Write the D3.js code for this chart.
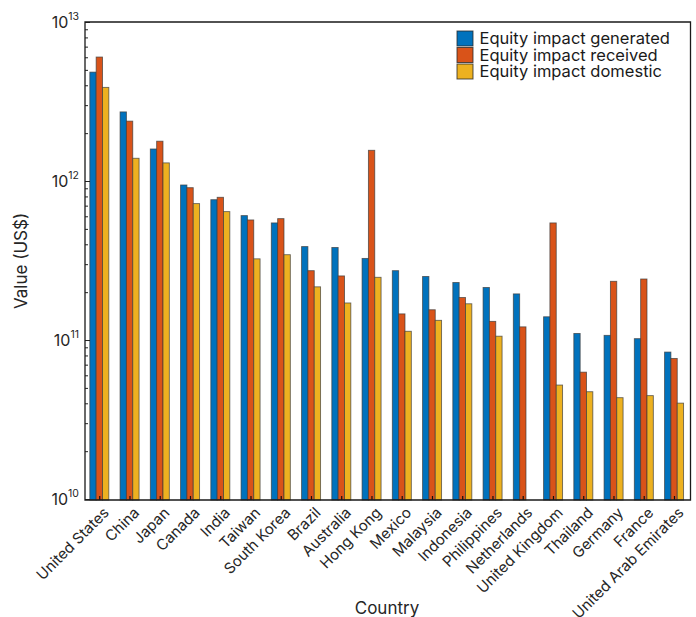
<!DOCTYPE html>
<html>
<head>
<meta charset="utf-8">
<script src="https://cdn.jsdelivr.net/npm/d3@7"></script>
<style>
  html, body { margin: 0; padding: 0; background: #fff; }
  svg { display: block; font-family: Inter, "Liberation Sans", Arial, sans-serif; }
</style>
</head>
<body>
<svg id="chart" width="696" height="617"></svg>
<script>
// Countries along the x axis
const countries = ["United States", "China", "Japan", "Canada", "India", "Taiwan",
  "South Korea", "Brazil", "Australia", "Hong Kong", "Mexico", "Malaysia",
  "Indonesia", "Philippines", "Netherlands", "United Kingdom", "Thailand",
  "Germany", "France", "United Arab Emirates"];

// Series values in US$ (null = no bar)
const generated = [4.84e12, 2.72e12, 1.59e12, 9.44e11, 7.63e11, 6.06e11,
  5.45e11, 3.87e11, 3.82e11, 3.26e11, 2.73e11, 2.51e11,
  2.30e11, 2.14e11, 1.95e11, 1.40e11, 1.10e11,
  1.07e11, 1.02e11, 8.4e10];
const received = [6.02e12, 2.38e12, 1.78e12, 9.08e11, 7.9e11, 5.69e11,
  5.8e11, 2.73e11, 2.53e11, 1.56e12, 1.46e11, 1.55e11,
  1.85e11, 1.31e11, 1.21e11, 5.45e11, 6.28e10,
  2.34e11, 2.42e11, 7.66e10];
const domestic = [3.88e12, 1.39e12, 1.30e12, 7.21e11, 6.42e11, 3.24e11,
  3.44e11, 2.16e11, 1.71e11, 2.48e11, 1.135e11, 1.33e11,
  1.69e11, 1.057e11, null, 5.21e10, 4.73e10,
  4.34e10, 4.47e10, 4.01e10];

const seriesNames = ["Equity impact generated", "Equity impact received", "Equity impact domestic"];
const seriesColors = ["#0072BD", "#D95319", "#EDB120"];
const yTickExponents = [10, 11, 12, 13];

const series = [generated, received, domestic];

const svg = d3.select("#chart");
const plot = { left: 85, right: 690.5, top: 22, bottom: 500 };

// x: group centres on a continuous scale (categories at 1..n)
const x = d3.scaleLinear()
  .domain([0.5, countries.length + 0.5])
  .range([84.1, 689.1]);
// offsets of the three bars inside a group
const xs = d3.scaleBand().domain(d3.range(series.length)).range([-9.4, 9.6]).padding(0);

const y = d3.scaleLog()
  .domain([Math.pow(10, 9.994), 1e13])
  .range([plot.bottom, plot.top]);

// bars
series.forEach((vals, si) => {
  svg.append("g")
    .selectAll("rect")
    .data(vals.map((v, i) => ({ v, i })).filter(d => d.v != null))
    .join("rect")
    .attr("x", d => x(d.i + 1) + xs(si))
    .attr("width", xs.bandwidth())
    .attr("y", d => y(d.v))
    .attr("height", d => plot.bottom - y(d.v))
    .attr("fill", seriesColors[si])
    .attr("stroke", "rgba(60,60,60,0.75)")
    .attr("stroke-width", 0.9);
});

// y axis: log ticks, inward
const majorTicks = yTickExponents.map(e => Math.pow(10, e));
const minorTicks = [];
for (let e = 10; e < 13; e++) for (let m = 2; m <= 9; m++) minorTicks.push(m * Math.pow(10, e));

const yAxisMajor = d3.axisLeft(y).tickValues(majorTicks).tickSize(-5).tickFormat("");
const yAxisMinor = d3.axisLeft(y).tickValues(minorTicks).tickSize(-3).tickFormat("");
const gyMinor = svg.append("g").attr("transform", `translate(${plot.left},0)`).call(yAxisMinor);
const gyMajor = svg.append("g").attr("transform", `translate(${plot.left},0)`).call(yAxisMajor);
[gyMinor, gyMajor].forEach(g => {
  g.select(".domain").remove();
  g.selectAll("line").attr("stroke", "#222").attr("stroke-width", 1);
});

// y tick labels 10^e
const yLab = svg.append("g");
yTickExponents.forEach(e => {
  const t = yLab.append("text")
    .attr("x", plot.left - 6)
    .attr("y", y(Math.pow(10, e)) + 6)
    .attr("text-anchor", "end")
    .attr("fill", "#262626")
    .style("font-size", "16px");
  t.append("tspan").text("10");
  t.append("tspan").text(e).attr("dy", -8).style("font-size", "10.5px");
});

// x axis ticks (inward) and rotated labels
const xAxis = d3.axisBottom(x).tickValues(d3.range(1, countries.length + 1)).tickSize(-4).tickFormat("");
const gx = svg.append("g").attr("transform", `translate(0,${plot.bottom})`).call(xAxis);
gx.select(".domain").remove();
gx.selectAll("line").attr("stroke", "#111").attr("stroke-width", 1.2);

svg.append("g")
  .selectAll("text")
  .data(countries)
  .join("text")
  .attr("transform", (d, i) => `translate(${x(i + 1) + 7},${plot.bottom + 10}) rotate(-45)`)
  .attr("text-anchor", "end")
  .attr("dy", "0.35em")
  .attr("fill", "#262626")
  .style("font-size", "15px")
  .text(d => d);

// axes box (left, bottom, top, right)
svg.append("path")
  .attr("d", `M${plot.left},${plot.top}V${plot.bottom}H${plot.right}V${plot.top}Z`)
  .attr("fill", "none")
  .attr("stroke", "#1a1a1a")
  .attr("stroke-width", 1.3);

// axis titles
svg.append("text")
  .attr("transform", `translate(27,${(plot.top + plot.bottom) / 2}) rotate(-90)`)
  .attr("text-anchor", "middle")
  .attr("fill", "#262626")
  .style("font-size", "17px")
  .text("Value (US$)");

svg.append("text")
  .attr("x", 387)
  .attr("y", 614)
  .attr("text-anchor", "middle")
  .attr("fill", "#262626")
  .style("font-size", "17px")
  .text("Country");

// legend
const legend = svg.append("g").attr("transform", "translate(457,31)");
seriesNames.forEach((name, i) => {
  const row = legend.append("g").attr("transform", `translate(0,${i * 16.5})`);
  row.append("rect")
    .attr("width", 16).attr("height", 15)
    .attr("fill", seriesColors[i])
    .attr("stroke", "rgba(40,40,40,0.8)")
    .attr("stroke-width", 1);
  row.append("text")
    .attr("x", 22.5)
    .attr("y", 7.5)
    .attr("dy", "0.36em")
    .attr("fill", "#1a1a1a")
    .style("font-size", "16.5px")
    .text(name);
});
</script>
</body>
</html>
